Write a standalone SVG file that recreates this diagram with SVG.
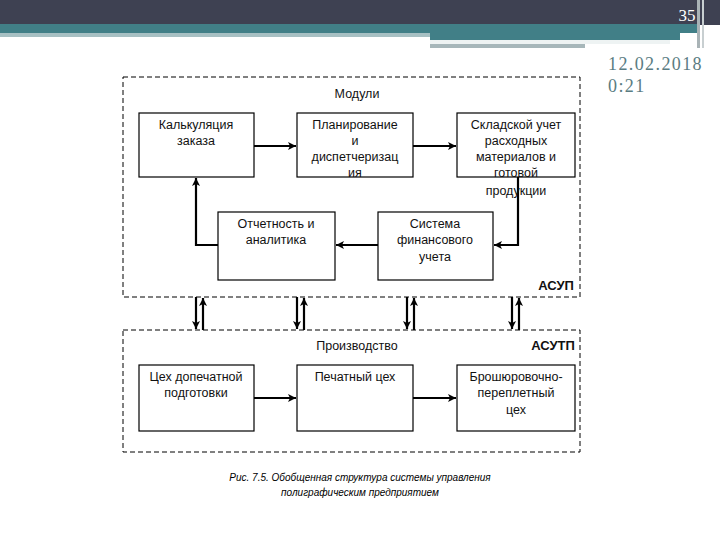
<svg xmlns="http://www.w3.org/2000/svg" width="720" height="540" viewBox="0 0 720 540">
<defs>
<marker id="ah" markerWidth="10" markerHeight="10" refX="9" refY="5" orient="auto" markerUnits="userSpaceOnUse"><path d="M1,1 L9,5 L1,9 L3,5 Z" fill="#000"/></marker>
<style>
.n{fill:#fff;stroke:#000;stroke-width:1.2}
.t{font-family:"Liberation Sans",Arial,sans-serif;font-size:12.5px;text-anchor:middle;fill:#111}
.b{font-weight:bold;font-size:13px}
.c{stroke:#000;stroke-width:2.2;fill:none;marker-end:url(#ah)}
.d{fill:none;stroke:#000;stroke-width:1;stroke-dasharray:5,3}
.cap{font-family:"Liberation Sans",Arial,sans-serif;font-size:10px;font-style:italic;text-anchor:middle}
</style>
</defs>
<rect width="720" height="540" fill="#fff"/>
<g id="header">
<rect x="0" y="0" width="720" height="25" fill="#3e4152"/>
<rect x="0" y="24" width="697" height="9" fill="#417f87"/>
<rect x="0" y="33" width="430" height="4" fill="#a7c0c3"/>
<rect x="430" y="33" width="250" height="7" fill="#417f87"/>
<rect x="430" y="40" width="240" height="4" fill="#eef3f3"/>
<rect x="430" y="44" width="155" height="4" fill="#a7b7ba"/>
<rect x="697" y="0" width="3" height="48" fill="#a9b3b6"/>
<rect x="702" y="0" width="2" height="48" fill="#c8cfd1"/>
<text x="687" y="21" font-family="Liberation Serif,serif" font-size="17" fill="#fff" text-anchor="middle">35</text>
<text x="608" y="70" font-family="Liberation Serif,serif" font-size="18" letter-spacing="1.4" fill="#5a7c82">12.02.2018</text>
<text x="608" y="92" font-family="Liberation Serif,serif" font-size="18" letter-spacing="1.4" fill="#5a7c82">0:21</text>
</g>
<g id="asup"><rect class="d" x="123" y="77" width="457" height="220"/>
<text class="t" x="357" y="98">Модули</text><text class="t b" x="556" y="290">АСУП</text></g>
<g id="asutp"><rect class="d" x="123" y="330" width="457" height="122"/>
<text class="t" x="357" y="350">Производство</text><text class="t b" x="553" y="350">АСУТП</text></g>
<g id="connectors">
<line class="c" x1="254" y1="146" x2="296" y2="146"/>
<line class="c" x1="413" y1="146" x2="456" y2="146"/>
<polyline class="c" points="518,177 518,245 494,245"/>
<line class="c" x1="378" y1="245" x2="336" y2="245"/>
<polyline class="c" points="218,245 196,245 196,178"/>
<line class="c" x1="254" y1="398" x2="296" y2="398"/>
<line class="c" x1="413" y1="398" x2="456" y2="398"/>
<line class="c" x1="196" y1="297" x2="196" y2="329"/>
<line class="c" x1="203" y1="330" x2="203" y2="298"/>
<line class="c" x1="297" y1="297" x2="297" y2="329"/>
<line class="c" x1="304" y1="330" x2="304" y2="298"/>
<line class="c" x1="407" y1="297" x2="407" y2="329"/>
<line class="c" x1="414" y1="330" x2="414" y2="298"/>
<line class="c" x1="512" y1="297" x2="512" y2="329"/>
<line class="c" x1="519" y1="330" x2="519" y2="298"/>
</g>
<g id="n1"><rect class="n" x="139" y="113" width="115" height="64"/><text class="t" x="196" y="129">Калькуляция</text><text class="t" x="196" y="145">заказа</text></g>
<g id="n2"><rect class="n" x="297" y="113" width="116" height="64"/><text class="t" x="355" y="129">Планирование</text><text class="t" x="355" y="145">и</text><text class="t" x="355" y="161">диспетчеризац</text><text class="t" x="355" y="177">ия</text></g>
<g id="n3"><rect class="n" x="457" y="113" width="118" height="64"/><text class="t" x="516" y="129">Складской учет</text><text class="t" x="516" y="145">расходных</text><text class="t" x="516" y="161">материалов и</text><text class="t" x="516" y="177">готовой</text><text class="t" x="516" y="195">продукции</text></g>
<g id="n4"><rect class="n" x="218" y="212" width="117" height="68"/><text class="t" x="276" y="228">Отчетность и</text><text class="t" x="276" y="244">аналитика</text></g>
<g id="n5"><rect class="n" x="378" y="212" width="115" height="68"/><text class="t" x="435" y="228">Система</text><text class="t" x="435" y="244">финансового</text><text class="t" x="435" y="261">учета</text></g>
<g id="n6"><rect class="n" x="139" y="365" width="115" height="66"/><text class="t" x="196" y="381">Цех допечатной</text><text class="t" x="196" y="397">подготовки</text></g>
<g id="n7"><rect class="n" x="297" y="365" width="116" height="66"/><text class="t" x="355" y="381">Печатный цех</text></g>
<g id="n8"><rect class="n" x="457" y="365" width="118" height="66"/><text class="t" x="516" y="381">Брошюровочно-</text><text class="t" x="516" y="397">переплетный</text><text class="t" x="516" y="414">цех</text></g>
<text class="cap" x="360" y="481">Рис. 7.5. Обобщенная структура системы управления</text>
<text class="cap" x="360" y="496">полиграфическим предприятием</text>
</svg>
